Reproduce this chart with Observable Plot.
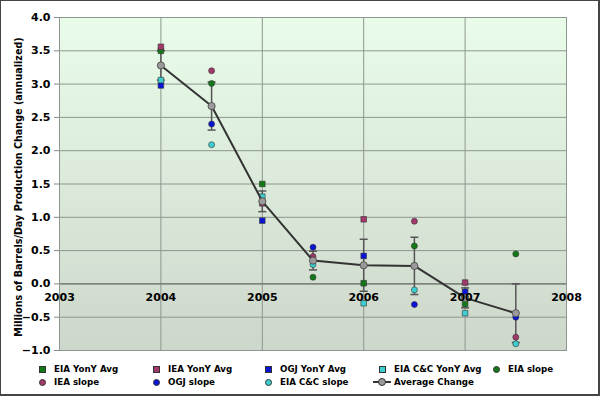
<!DOCTYPE html>
<html><head><meta charset="utf-8">
<script src="https://cdn.jsdelivr.net/npm/d3@7"></script>
<script src="https://cdn.jsdelivr.net/npm/@observablehq/plot@0.6"></script>
<style>
body{margin:0;background:#fff;}
#wrap{position:relative;width:600px;height:396px;overflow:hidden;font-family:"DejaVu Sans",Verdana,sans-serif;background:#fff;}
#border{position:absolute;left:0;top:0;width:600px;height:396px;box-sizing:border-box;border:1px solid #444;border-right-width:2px;border-bottom-width:2px;pointer-events:none;}
#legend{position:relative;height:40px;font-size:8.7px;font-weight:bold;color:#000;}
.item{position:absolute;white-space:nowrap;line-height:10px;height:10px;}
.mk{position:absolute;box-sizing:border-box;border:0.6px solid #333;}
</style></head><body>
<div id="wrap"><div id="chart"></div><div id="legend"></div><div id="border"></div></div>
<script>
// ---- data ----
const yonyYears = [2004, 2005, 2006, 2007];
const slopeYears = [2004.5, 2005.5, 2006.5, 2007.5];
const eiaYonY   = [3.50, 1.50, 0.01, -0.30];
const ieaYonY   = [3.56, 1.21, 0.97, 0.02];
const ogjYonY   = [2.98, 0.95, 0.42, -0.12];
const eiaCCYonY = [3.06, 1.31, -0.29, -0.44];
const eiaSlope   = [3.01, 0.10, 0.57, 0.45];
const ieaSlope   = [3.20, 0.41, 0.94, -0.80];
const ogjSlope   = [2.40, 0.55, -0.31, -0.50];
const eiaCCSlope = [2.09, 0.29, -0.09, -0.90];
const avgYears  = [2004, 2004.5, 2005, 2005.5, 2006, 2006.5, 2007, 2007.5];
const avgChange = [3.28, 2.67, 1.24, 0.35, 0.28, 0.27, -0.21, -0.44];
const avgError  = [0.22, 0.36, 0.155, 0.14, 0.39, 0.43, 0.15, 0.44];
const xTicks = [2003, 2004, 2005, 2006, 2007, 2008];
const yTicks = [-1.0, -0.5, 0.0, 0.5, 1.0, 1.5, 2.0, 2.5, 3.0, 3.5, 4.0];
const yLabel = "Millions of Barrels/Day Production Change (annualized)";
const seriesNames = ["EIA YonY Avg", "IEA YonY Avg", "OGJ YonY Avg", "EIA C&C YonY Avg", "EIA slope",
                     "IEA slope", "OGJ slope", "EIA C&C slope", "Average Change"];

// ---- build tables ----
const series = [
  {name: seriesNames[0], xs: yonyYears, ys: eiaYonY, symbol: "square", color: "#117a17"},
  {name: seriesNames[1], xs: yonyYears, ys: ieaYonY, symbol: "square", color: "#a3386b"},
  {name: seriesNames[2], xs: yonyYears, ys: ogjYonY, symbol: "square", color: "#0a14d6"},
  {name: seriesNames[3], xs: yonyYears, ys: eiaCCYonY, symbol: "square", color: "#3ccfd2"},
  {name: seriesNames[4], xs: slopeYears, ys: eiaSlope, symbol: "circle", color: "#117a17"},
  {name: seriesNames[5], xs: slopeYears, ys: ieaSlope, symbol: "circle", color: "#a3386b"},
  {name: seriesNames[6], xs: slopeYears, ys: ogjSlope, symbol: "circle", color: "#0a14d6"},
  {name: seriesNames[7], xs: slopeYears, ys: eiaCCSlope, symbol: "circle", color: "#3ccfd2"}
];
const points = series.flatMap(s => s.xs.map((x, i) => ({x, y: s.ys[i], name: s.name, symbol: s.symbol, color: s.color})));
const avgTable = avgYears.map((x, i) => ({x, y: avgChange[i], e: avgError[i]}));
const capTable = avgTable.flatMap(d => [{x: d.x, y: d.y + d.e}, {x: d.x, y: d.y - d.e}]);

const capSymbol = {draw(ctx) { ctx.moveTo(-4, 0); ctx.lineTo(4, 0); }};

function background(index, scales, values, dims) {
  const g = d3.create("svg:g");
  const grad = g.append("defs").append("linearGradient").attr("id", "bgGrad")
    .attr("x1", 0).attr("y1", 0).attr("x2", 0).attr("y2", 1);
  grad.append("stop").attr("offset", "0%").attr("stop-color", "#e9fce9");
  grad.append("stop").attr("offset", "100%").attr("stop-color", "#cdd7cb");
  g.append("rect").attr("x", dims.marginLeft).attr("y", dims.marginTop)
    .attr("width", dims.width - dims.marginLeft - dims.marginRight)
    .attr("height", dims.height - dims.marginTop - dims.marginBottom)
    .attr("fill", "url(#bgGrad)");
  return g.node();
}

const H = 356;
const chart = Plot.plot({
  width: 600, height: H,
  marginLeft: 59, marginRight: 34, marginTop: 17, marginBottom: 6,
  style: {fontFamily: "'DejaVu Sans', Verdana, sans-serif", fontWeight: "bold", fontSize: "11px", color: "#000", background: "transparent"},
  x: {domain: [2003, 2008], axis: null},
  y: {domain: [-1, 4], axis: null},
  marks: [
    background,
    Plot.gridX(xTicks, {stroke: "#8d978d", strokeOpacity: 1}),
    Plot.gridY(yTicks, {stroke: "#8d978d", strokeOpacity: 1}),
    Plot.ruleY([0], {stroke: "#666"}),
    Plot.frame({stroke: "#8d978d"}),
    Plot.axisY(yTicks, {tickFormat: d3.format(".1f"), tickSize: 5, tickPadding: 4, stroke: "#888", label: null, fontSize: 11, fontWeight: "bold"}),
    Plot.ruleX(avgTable, {x: "x", y1: d => d.y - d.e, y2: d => d.y + d.e, stroke: "#555", strokeWidth: 1.5}),
    Plot.dot(capTable, {x: "x", y: "y", symbol: capSymbol, stroke: "#555", strokeWidth: 1.5, r: 4}),
    Plot.dot(points, {x: "x", y: "y", symbol: d => d.symbol === "square" ? "square" : "circle",
      r: d => d.symbol === "square" ? 3.9 : 3.5, fill: d => d.color, stroke: "#333", strokeWidth: 0.6}),
    Plot.line(avgTable, {x: "x", y: "y", stroke: "#333", strokeWidth: 2}),
    Plot.dot(avgTable, {x: "x", y: "y", r: 3.6, fill: "#9a9a9a", stroke: "#444", strokeWidth: 0.8}),
    Plot.text(xTicks, {x: d => d, y: 0, dy: 14, text: d => String(d), fontSize: 11, fontWeight: "bold", fill: "#000"}),
    Plot.text([yLabel], {frameAnchor: "left", dx: -41, dy: 3, rotate: -90, textAnchor: "middle", fontSize: 9.6, fontWeight: "bold", fill: "#000"})
  ]
});
document.getElementById("chart").appendChild(chart);

// ---- legend ----
const legend = document.getElementById("legend");
const colX = [42, 156, 268, 382, 496];
const rowY = [369, 382];
series.concat([{name: seriesNames[8], symbol: "line"}]).forEach((s, i) => {
  const col = i % 5, row = Math.floor(i / 5);
  const cx = colX[col], cy = rowY[row] - H;
  const item = document.createElement("div");
  item.className = "item";
  item.style.left = (cx + 12) + "px";
  item.style.top = (cy - 5) + "px";
  item.textContent = s.name;
  legend.appendChild(item);
  if (s.symbol === "line") {
    const ln = document.createElement("div");
    ln.style.cssText = `position:absolute;left:${cx - 9}px;top:${cy - 1}px;width:18px;height:2px;background:#333;`;
    legend.appendChild(ln);
    const dt = document.createElement("div");
    dt.className = "mk";
    dt.style.cssText += `left:${cx - 4}px;top:${cy - 4}px;width:8px;height:8px;border-radius:50%;background:#9a9a9a;`;
    legend.appendChild(dt);
  } else {
    const mk = document.createElement("div");
    mk.className = "mk";
    mk.style.left = (cx - 3.5) + "px";
    mk.style.top = (cy - 3.5) + "px";
    mk.style.width = "7px"; mk.style.height = "7px";
    mk.style.background = s.color;
    if (s.symbol === "circle") mk.style.borderRadius = "50%";
    legend.appendChild(mk);
  }
});
</script>
</body></html>
